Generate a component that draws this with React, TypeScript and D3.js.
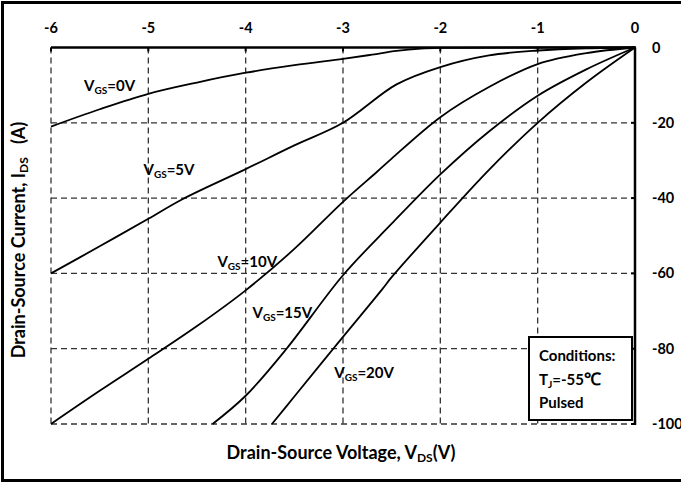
import React from "react";
import * as d3 from "d3";

const VDS_TICKS = [-6, -5, -4, -3, -2, -1, 0];
const IDS_TICKS = [0, -20, -40, -60, -80, -100];

const vgs0V: [number, number][] = [
  [-6, -21], [-5.5, -16.4], [-5, -12.3], [-4.5, -9.3], [-4, -6.7], [-3.5, -4.7],
  [-3, -3.0], [-2.7, -1.9], [-2.45, -0.9], [-2.2, -0.3], [-2, -0.1], [-1, 0], [0, 0],
];
const vgs5V: [number, number][] = [
  [-6, -60], [-5.5, -52.8], [-5, -45.5], [-4.65, -40.3], [-4, -32.3],
  [-3.5, -26], [-3, -20], [-2.45, -9.8], [-2, -5.2], [-1.5, -2.1], [-1, -0.8],
  [-0.5, -0.2], [0, 0],
];
const vgs10V: [number, number][] = [
  [-6, -100], [-5.5, -91.2], [-5, -82.7], [-4.5, -74], [-4, -64.5],
  [-3.5, -53.5], [-3, -41], [-2.65, -33], [-2.5, -29.5], [-2, -18.5],
  [-1.5, -10.5], [-1, -4.4], [-0.5, -1.5], [0, 0],
];
const vgs15V: [number, number][] = [
  [-4.34, -100], [-4, -92.5], [-3.58, -80], [-3, -60.5], [-2.5, -46.8], [-2, -33.7],
  [-1.5, -22.3], [-1, -12.8], [-0.5, -5.8], [0, 0],
];
const vgs20V: [number, number][] = [
  [-3.73, -100], [-3.5, -92.7], [-3.1, -80], [-2.6, -64.3], [-2.5, -61], [-2, -46.5],
  [-1.5, -32.5], [-1, -20], [-0.5, -9.3], [0, 0],
];

const SERIES = [vgs0V, vgs5V, vgs10V, vgs15V, vgs20V];
const SERIES_LABELS = ["0V", "5V", "10V", "15V", "20V"];
const LABEL_POS: [number, number][] = [
  [-5.66, -11.6], [-5.05, -33.9], [-4.29, -58.3], [-3.93, -71.8], [-3.09, -87.8],
];

const FONT = "Lato, 'Open Sans', sans-serif";

export default function App() {
  const W = 681, H = 486;
  const x = d3.scaleLinear().domain([-6, 0]).range([51, 635]);
  const y = d3.scaleLinear().domain([0, -100]).range([47.5, 424]);
  const line = d3
    .line<[number, number]>()
    .x((d) => x(d[0]))
    .y((d) => y(d[1]))
    .curve(d3.curveCatmullRom.alpha(0.5));

  const grid = "#333";
  return (
    <svg
      width={W}
      height={H}
      style={{ position: "absolute", left: 0, top: 0, background: "#fff" }}
      fontFamily={FONT}
      fontWeight="bold"
    >
      <rect x={0} y={0} width={W} height={H} fill="#fff" />
      {/* outer frame */}
      <rect x={2.5} y={2.5} width={700} height={478} fill="none" stroke="#000" strokeWidth={3} />

      {/* gridlines */}
      {VDS_TICKS.filter((t) => t !== 0).map((t) => (
        <line key={"gx" + t} x1={x(t)} x2={x(t)} y1={y(0)} y2={y(-100)} stroke={grid} strokeWidth={1.3} strokeDasharray="6,4" />
      ))}
      {IDS_TICKS.filter((t) => t !== 0).map((t) => (
        <line key={"gy" + t} x1={x(-6)} x2={x(0)} y1={y(t)} y2={y(t)} stroke={grid} strokeWidth={1.3} strokeDasharray="6,4" />
      ))}

      {/* axes: top and right */}
      <line x1={x(-6)} x2={x(0) + 1} y1={y(0)} y2={y(0)} stroke="#000" strokeWidth={2.5} />
      <line x1={x(0)} x2={x(0)} y1={y(0)} y2={y(-100) + 1} stroke="#000" strokeWidth={2.5} />
      {VDS_TICKS.map((t) => (
        <line key={"tx" + t} x1={x(t)} x2={x(t)} y1={y(0)} y2={y(0) + 4} stroke="#000" strokeWidth={2} />
      ))}
      {IDS_TICKS.map((t) => (
        <line key={"ty" + t} x1={x(0) - 4} x2={x(0)} y1={y(t)} y2={y(t)} stroke="#000" strokeWidth={2} />
      ))}

      {/* tick labels */}
      {VDS_TICKS.map((t) => (
        <text key={"lx" + t} x={x(t)} y={32.5} textAnchor="middle" fontSize={14.5}>
          {t}
        </text>
      ))}
      {IDS_TICKS.map((t) => (
        <text key={"ly" + t} x={652} y={y(t) + 5} fontSize={14.5}>
          {t}
        </text>
      ))}

      {/* curves */}
      {SERIES.map((s, i) => (
        <path key={"c" + i} d={line(s) || ""} fill="none" stroke="#000" strokeWidth={1.8} />
      ))}

      {/* curve labels */}
      {SERIES_LABELS.map((lab, i) => (
        <text key={"cl" + i} x={x(LABEL_POS[i][0])} y={y(LABEL_POS[i][1])} fontSize={15}>
          V
          <tspan fontSize={10} dy={3}>GS</tspan>
          <tspan dy={-3}>={lab}</tspan>
        </text>
      ))}

      {/* conditions box */}
      <rect x={529} y={337} width={103} height={83} fill="#fff" stroke="#000" strokeWidth={2} />
      <text x={539} y={361} fontSize={15}>Conditions:</text>
      <text x={539} y={385} fontSize={15}>
        T<tspan fontSize={10} dy={3}>J</tspan>
        <tspan dy={-3}>=-55</tspan>
        <tspan fontSize={17}>℃</tspan>
      </text>
      <text x={539} y={408} fontSize={15}>Pulsed</text>

      {/* axis titles */}
      <text x={341} y={459} textAnchor="middle" fontSize={18}>
        Drain-Source Voltage, V<tspan fontSize={12} dy={3}>DS</tspan>
        <tspan dy={-3}>(V)</tspan>
      </text>
      <text transform="translate(25,240) rotate(-90)" textAnchor="middle" fontSize={18}>
        Drain-Source Current, I<tspan fontSize={12} dy={3}>DS</tspan>
        <tspan dy={-3} xmlSpace="preserve">{"   (A)"}</tspan>
      </text>
    </svg>
  );
}
